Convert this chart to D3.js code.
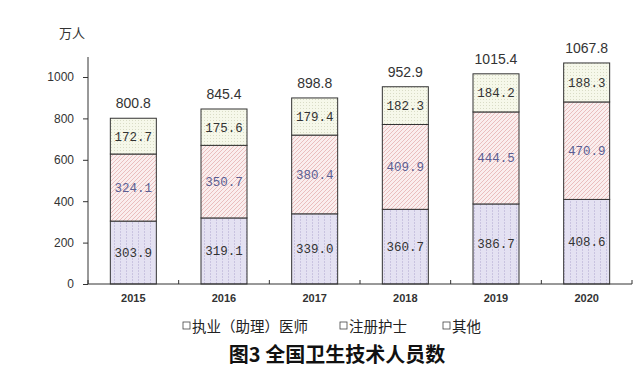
<!DOCTYPE html>
<html><head><meta charset="utf-8">
<script src="https://cdn.jsdelivr.net/npm/d3@7"></script>
<style>body{margin:0;background:#fff}svg{display:block}</style>
</head><body>
<svg id="c" width="640" height="379"></svg>
<script>
const years = ["2015","2016","2017","2018","2019","2020"];
const doctors = [303.9, 319.1, 339.0, 360.7, 386.7, 408.6];
const nurses = [324.1, 350.7, 380.4, 409.9, 444.5, 470.9];
const others = [172.7, 175.6, 179.4, 182.3, 184.2, 188.3];
const totals = [800.8, 845.4, 898.8, 952.9, 1015.4, 1067.8];
const seriesNames = ["执业（助理）医师", "注册护士", "其他"];
const yTicks = [0, 200, 400, 600, 800, 1000];

const svg = d3.select("#c");
const defs = svg.append("defs");
const p1 = defs.append("pattern").attr("id","pDoc").attr("patternUnits","userSpaceOnUse").attr("width",6).attr("height",3);
p1.append("rect").attr("width",6).attr("height",3).attr("fill","#e4e1f2");
p1.append("rect").attr("x",0).attr("y",0).attr("width",1).attr("height",2).attr("fill","#c9c3e0");
const p2 = defs.append("pattern").attr("id","pNur").attr("patternUnits","userSpaceOnUse").attr("width",4).attr("height",4);
p2.append("rect").attr("width",4).attr("height",4).attr("fill","#faeeee");
p2.append("path").attr("d","M0,4 L4,0 M-1,1 L1,-1 M3,5 L5,3").attr("stroke","#e9b9b9").attr("stroke-width",0.9);
const p3 = defs.append("pattern").attr("id","pOth").attr("patternUnits","userSpaceOnUse").attr("width",3).attr("height",3);
p3.append("rect").attr("width",3).attr("height",3).attr("fill","#f6f8ea");
p3.append("rect").attr("x",0).attr("y",0).attr("width",1).attr("height",1).attr("fill","#d9dcc6");

const x0 = 88, x1 = 632, yBase = 284;
const x = d3.scaleBand().domain(years).range([x0, x1]).paddingInner(0).paddingOuter(0);
const y = d3.scaleLinear().domain([0, 1000]).range([yBase, 77]);
const barW = 46;

const yAxis = svg.append("g").attr("transform",`translate(${x0},0)`)
  .call(d3.axisLeft(y).tickValues(yTicks).tickSize(5).tickPadding(9).tickFormat(d3.format("d")));
yAxis.select(".domain").remove();
yAxis.append("line").attr("x1",0).attr("x2",0).attr("y1",57).attr("y2",yBase).attr("stroke","#333");
yAxis.selectAll(".tick line").attr("stroke","#333");
yAxis.selectAll(".tick text").attr("fill","#333").style("font-family","Arial, 'Liberation Sans', sans-serif").style("font-size","12px");

svg.append("text").attr("x",72).attr("y",38).attr("text-anchor","middle")
  .style("font-family","'Noto Sans CJK SC'").style("font-size","13px").attr("fill","#333").text("万人");

const stacks = [
  {vals: doctors, fill: "url(#pDoc)", txt: "#333"},
  {vals: nurses, fill: "url(#pNur)", txt: "#5b5e93"},
  {vals: others, fill: "url(#pOth)", txt: "#333"}
];
const g = svg.append("g");
years.forEach((yr, i) => {
  let base = 0;
  const cx = x(yr) + x.bandwidth()/2;
  stacks.forEach(s => {
    const v = s.vals[i];
    const top = base + v;
    g.append("rect").attr("x", cx - barW/2).attr("width", barW)
      .attr("y", y(top)).attr("height", y(base) - y(top))
      .attr("fill", s.fill).attr("stroke","#333").attr("stroke-width",1);
    g.append("text").attr("x", cx).attr("y", (y(base)+y(top))/2 + 4.5).attr("text-anchor","middle")
      .style("font-family","'Liberation Mono', 'DejaVu Sans Mono', monospace").style("font-size","12.5px")
      .attr("fill", s.txt).text(v.toFixed(1));
    base = top;
  });
  g.append("text").attr("x", cx).attr("y", y(totals[i]) - 10).attr("text-anchor","middle")
    .style("font-family","Arial, 'Liberation Sans', sans-serif").style("font-size","14px")
    .attr("fill","#333").text(totals[i].toFixed(1));
});

const xAxis = svg.append("g").attr("transform",`translate(0,${yBase})`);
xAxis.append("line").attr("x1",x0).attr("x2",x1).attr("stroke","#333");
years.concat(["end"]).forEach((yr,i)=>{
  const xx = x0 + i*x.bandwidth();
  xAxis.append("line").attr("x1",xx).attr("x2",xx).attr("y1",0).attr("y2",-4).attr("stroke","#333");
});
years.forEach(yr=>{
  xAxis.append("text").attr("x", x(yr)+x.bandwidth()/2).attr("y",18).attr("text-anchor","middle")
    .style("font-family","Arial, 'Liberation Sans', sans-serif").style("font-size","11px").style("font-weight","bold")
    .attr("fill","#333").text(yr);
});

const legX = [183, 340, 443];
seriesNames.forEach((n,i)=>{
  svg.append("rect").attr("x",legX[i]).attr("y",322).attr("width",7).attr("height",7)
    .attr("fill","#fff").attr("stroke","#444").attr("stroke-width",0.8);
  svg.append("text").attr("x",legX[i]+9).attr("y",332)
    .style("font-family","'Noto Sans CJK SC'").style("font-size","14.5px").attr("fill","#222")
    .attr("textLength", i===0 ? 116 : null).text(n);
});

svg.append("text").attr("x",337).attr("y",362).attr("text-anchor","middle")
  .style("font-family","'Noto Sans CJK SC'").style("font-size","20px").style("font-weight","bold")
  .attr("fill","#111").text("图3 全国卫生技术人员数");
</script>
</body></html>
